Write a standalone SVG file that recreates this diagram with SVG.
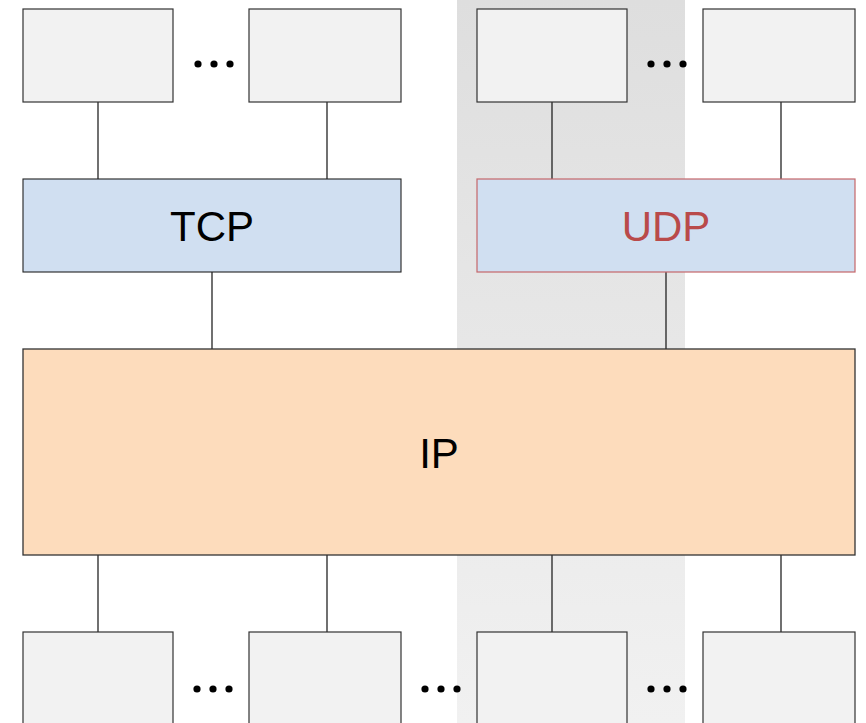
<svg xmlns="http://www.w3.org/2000/svg" width="866" height="723" viewBox="0 0 866 723">
  <defs>
    <linearGradient id="band" x1="0" y1="0" x2="0" y2="1">
      <stop offset="0" stop-color="#dedede"/>
      <stop offset="1" stop-color="#f1f1f1"/>
    </linearGradient>
    <style>
      .app { fill: #f2f2f2; stroke: #333; stroke-width: 1.2; }
      .tcp { fill: #d0dff1; stroke: #222; stroke-width: 1.1; }
      .udp { fill: #d0dff1; stroke: #c5676a; stroke-width: 1.2; }
      .ip { fill: #fddcbc; stroke: #333; stroke-width: 1.3; }
      .link { stroke: #111; stroke-width: 1.2; fill: none; }
      .dot { fill: #000; }
      .lbl { font-family: "Liberation Sans", Arial, sans-serif; font-size: 42px; text-anchor: middle; dominant-baseline: central; }
    </style>
  </defs>
  <rect width="866" height="723" fill="#fff"/>
  <!-- UDP column shading -->
  <rect x="457" y="0" width="228" height="723" fill="url(#band)"/>

  <g id="connectors">
    <line class="link" x1="98" y1="102" x2="98" y2="179"/>
    <line class="link" x1="327" y1="102" x2="327" y2="179"/>
    <line class="link" x1="552" y1="102" x2="552" y2="179"/>
    <line class="link" x1="781" y1="102" x2="781" y2="179"/>
    <line class="link" x1="212" y1="272" x2="212" y2="349"/>
    <line class="link" x1="666" y1="272" x2="666" y2="349"/>
    <line class="link" x1="98" y1="555" x2="98" y2="632"/>
    <line class="link" x1="327" y1="555" x2="327" y2="632"/>
    <line class="link" x1="552" y1="555" x2="552" y2="632"/>
    <line class="link" x1="781" y1="555" x2="781" y2="632"/>
  </g>

  <g id="app-top-1"><rect class="app" x="23" y="9" width="150" height="93"/></g>
  <g id="app-top-2"><rect class="app" x="249" y="9" width="152" height="93"/></g>
  <g id="app-top-3"><rect class="app" x="477" y="9" width="150" height="93"/></g>
  <g id="app-top-4"><rect class="app" x="703" y="9" width="152" height="93"/></g>

  <g id="tcp">
    <rect class="tcp" x="23" y="179" width="378" height="93"/>
    <text class="lbl" x="212" y="226" fill="#000">TCP</text>
  </g>
  <g id="udp">
    <rect class="udp" x="477" y="179" width="378" height="93"/>
    <text class="lbl" x="666" y="226" fill="#b94a4a">UDP</text>
  </g>
  <g id="ip">
    <rect class="ip" x="23" y="349" width="832" height="206"/>
    <text class="lbl" x="439" y="453" fill="#000">IP</text>
  </g>

  <g id="link-bottom-1"><rect class="app" x="23" y="632" width="150" height="100"/></g>
  <g id="link-bottom-2"><rect class="app" x="249" y="632" width="152" height="100"/></g>
  <g id="link-bottom-3"><rect class="app" x="477" y="632" width="150" height="100"/></g>
  <g id="link-bottom-4"><rect class="app" x="703" y="632" width="152" height="100"/></g>

  <g id="ellipses">
    <circle class="dot" cx="198" cy="64" r="3.6"/>
    <circle class="dot" cx="214" cy="64" r="3.6"/>
    <circle class="dot" cx="230" cy="64" r="3.6"/>
    <circle class="dot" cx="651" cy="64" r="3.6"/>
    <circle class="dot" cx="667" cy="64" r="3.6"/>
    <circle class="dot" cx="683" cy="64" r="3.6"/>
    <circle class="dot" cx="197" cy="689" r="3.6"/>
    <circle class="dot" cx="213" cy="689" r="3.6"/>
    <circle class="dot" cx="229" cy="689" r="3.6"/>
    <circle class="dot" cx="425" cy="689" r="3.6"/>
    <circle class="dot" cx="441" cy="689" r="3.6"/>
    <circle class="dot" cx="457" cy="689" r="3.6"/>
    <circle class="dot" cx="651" cy="689" r="3.6"/>
    <circle class="dot" cx="667" cy="689" r="3.6"/>
    <circle class="dot" cx="683" cy="689" r="3.6"/>
  </g>
</svg>
